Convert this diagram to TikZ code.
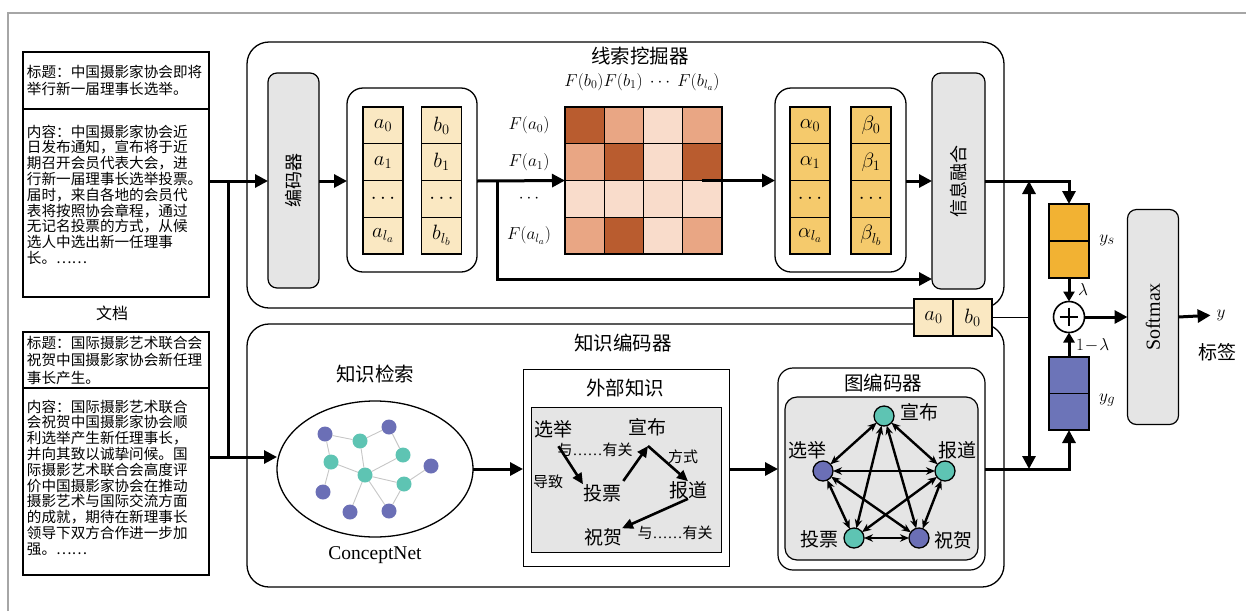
\documentclass[tikz,border=0pt]{standalone}
\usepackage{graphicx}
\usepackage{fontspec}
\setmainfont{Liberation Serif}
\newfontfamily\cjk{Noto Sans CJK SC}
\usetikzlibrary{arrows.meta,shapes.geometric,positioning,calc}

\definecolor{boxgray}{HTML}{E5E5E5}
\definecolor{beige}{HTML}{FAE8C2}
\definecolor{attn}{HTML}{F5CA6C}
\definecolor{yscol}{HTML}{F2B233}
\definecolor{ygcol}{HTML}{6C74B8}
\definecolor{heatdk}{HTML}{B95C2F}
\definecolor{heatmd}{HTML}{E9A684}
\definecolor{heatlt}{HTML}{F9DCCB}
\definecolor{teal}{HTML}{5EC4B3}
\definecolor{violet}{HTML}{6B6FB6}
\newcommand\fsz[1]{\fontsize{#1}{#1}\selectfont}
\newcommand\reldots{{\rmfamily\fsz{15}……}}

\begin{document}
\begin{tikzpicture}[x=1pt, y=-1pt,
    every node/.style={inner sep=0pt, outer sep=0pt},
    doctitle/.style={font=\cjk\fontsize{14.6}{17.5}\selectfont, align=left, anchor=north west},
    docbody/.style={font=\cjk\fontsize{14.6}{15.8}\selectfont, align=left, anchor=north west},
    docbox/.style={draw, line width=1.2pt, anchor=north west},
    panel/.style={draw, line width=1.3pt, rounded corners=22pt},
    title/.style={font=\cjk\fsz{19.5}},
    graybox/.style={draw, line width=1.2pt, fill=boxgray, rounded corners=9pt, font=\cjk\fsz{18}},
    cell/.style={draw, line width=1.2pt, minimum width=40pt, minimum height=36.75pt, font=\fsz{21}},
    mcell/.style={draw, line width=1.2pt, minimum width=39.25pt, minimum height=36.75pt},
    flow/.style={line width=3pt, -{Triangle[length=13pt,width=13pt]}},
    small flow/.style={line width=3pt, -{Triangle[length=10pt,width=11pt]}},
    bus/.style={line width=3pt},
    netdot/.style={circle, minimum size=15pt},
    netedge/.style={gray!45, line width=0.9pt},
    kword/.style={font=\cjk\fsz{19}},
    krel/.style={font=\cjk\fsz{15}},
    karrow/.style={line width=2.6pt, -{Triangle[length=11pt,width=10pt]}},
    gdot/.style={circle, draw, line width=1.3pt, minimum size=20pt},
    gedge/.style={line width=2.4pt, {Stealth[length=9pt,width=7.5pt]}-{Stealth[length=9pt,width=7.5pt]}},
    glab/.style={font=\cjk\fsz{19}}]
  \useasboundingbox (0,0) rectangle (1246,611);
  \draw[gray!70, line width=1.5pt] (8,611) -- (8,13) -- (1246,13);

  \coordinate (ymain) at (0,181);
  \coordinate (ylow) at (0,279);
  \coordinate (ygr) at (0,469);

  \node[docbox, minimum width=186pt, minimum height=57pt] (d1t) at (23,52) {};
  \node[docbox, minimum width=186pt, minimum height=188pt] (d1b) at (23,109) {};
  \node[doctitle] (d1tt) at (27,64.7) {标题：中国摄影家协会即将\\举行新一届理事长选举。};
  \node[docbody] (d1bt) at (27,124.7) {内容：中国摄影家协会近\\日发布通知，宣布将于近\\期召开会员代表大会，进\\行新一届理事长选举投票。\\届时，来自各地的会员代\\表将按照协会章程，通过\\无记名投票的方式，从候\\选人中选出新一任理事\\长。……};
  \node[font=\cjk\fsz{16}] (doclab) at (112,313) {文档};
  \node[docbox, minimum width=186pt, minimum height=56pt] (d2t) at (23,332) {};
  \node[docbox, minimum width=186pt, minimum height=187pt] (d2b) at (23,388) {};
  \node[doctitle] (d2tt) at (27,335.7) {标题：国际摄影艺术联合会\\祝贺中国摄影家协会新任理\\事长产生。};
  \node[docbody] (d2bt) at (27,399.7) {内容：国际摄影艺术联合\\会祝贺中国摄影家协会顺\\利选举产生新任理事长，\\并向其致以诚挚问候。国\\际摄影艺术联合会高度评\\价中国摄影家协会在推动\\摄影艺术与国际交流方面\\的成就，期待在新理事长\\领导下双方合作进一步加\\强。……};

  \node[panel, minimum width=757pt, minimum height=266pt] (mine) at (625.5,175) {};
  \node[panel, minimum width=757pt, minimum height=263pt] (know) at (625.5,455.5) {};
  \node[title] (minet) at (640,56) {线索挖掘器};
  \node[title] (knowt) at (623,343) {知识编码器};

  \node[graybox, minimum width=51pt, minimum height=215pt] (enc) at (293.5,180.5) {\rotatebox{90}{编码器}};
  \node[draw, line width=1.3pt, rounded corners=16pt, minimum width=130pt, minimum height=184pt] (abbox) at (412,180) {};
  \foreach \lab [count=\i from 0] in {a_0,a_1,\cdots,a_{l_a}}
    \node[cell, fill=beige] (a\i) at (383,125.4+36.75*\i) {$\lab$};
  \foreach \lab [count=\i from 0] in {b_0,b_1,\cdots,b_{l_b}}
    \node[cell, fill=beige] (b\i) at (441.5,125.4+36.75*\i) {$\lab$};

  \foreach \r/\cl in {0/{dk,md,lt,md},1/{md,dk,lt,dk},2/{lt,lt,lt,lt},3/{md,dk,lt,md}}
    \foreach \f [count=\c from 0] in \cl
      \node[mcell, fill=heat\f] (m-\r-\c) at (584.6+39.25*\c,125.4+36.75*\r) {};
  \node[font=\fsz{17.5}] (fb) at (642,82) {$F(b_0)F(b_1)\ \cdots\ F(b_{l_a})$};
  \foreach \lab [count=\i from 0] in {F(a_0),F(a_1),\cdots,F(a_{l_a})}
    \node[font=\fsz{18.5}] (fa\i) at (529,125.4+36.75*\i) {$\lab$};

  \node[draw, line width=1.3pt, rounded corners=16pt, minimum width=131pt, minimum height=184pt] (albe) at (840.5,180) {};
  \foreach \lab [count=\i from 0] in {\alpha_0,\alpha_1,\cdots,\alpha_{l_a}}
    \node[cell, fill=attn] (al\i) at (810,125.4+36.75*\i) {$\lab$};
  \foreach \lab [count=\i from 0] in {\beta_0,\beta_1,\cdots,\beta_{l_b}}
    \node[cell, fill=attn] (be\i) at (871,125.4+36.75*\i) {$\lab$};
  \node[graybox, minimum width=53pt, minimum height=216pt] (fuse) at (958.5,181) {\rotatebox{90}{信息融合}};

  \node[cell, fill=beige, minimum width=39pt, minimum height=37pt] (ca) at (933.5,317.5) {$a_0$};
  \node[cell, fill=beige, minimum width=39pt, minimum height=37pt, right=0pt of ca] (cb) {$b_0$};

  \coordinate (j1) at (228,181);
  \coordinate (j2) at (228,457);
  \coordinate (j3) at (497,181);
  \coordinate (jb) at (1029,317.5);
  \draw[flow] (d1b.east |- ymain) -- (enc.west |- ymain);
  \draw[bus] (j1) -- (j2);
  \draw[flow] (enc.east |- ymain) -- (abbox.west |- ymain);
  \draw[flow] (abbox.east |- ymain) -- (m-1-0.south west);
  \draw[flow] (j3) |- (fuse.west |- ylow);
  \draw[flow] (m-1-3.south) -- (albe.west |- m-1-3.south);
  \draw[flow] (albe.east |- ymain) -- (fuse.west |- ymain);

  \node[title] (kr) at (375,374) {知识检索};
  \node[draw, ellipse, line width=1.3pt, minimum width=196pt, minimum height=136pt] (ell) at (375,469) {};
  \node[font=\fsz{19.5}] (cnet) at (375,555) {ConceptNet};
  \foreach \n/\px/\py in {b1/325/434, b2/389/427, b3/431/466, b4/323/492, b5/350/512, b6/389/511}
    \node[netdot, fill=violet] (\n) at (\px,\py) {};
  \foreach \n/\px/\py in {t1/360/441, t2/403/455, t3/331/462, t4/365/475, t5/404/484}
    \node[netdot, fill=teal] (\n) at (\px,\py) {};
  \foreach \u/\v in {b1/t1, b1/t3, t1/b2, b2/t2, t1/t4, t3/t4, t4/t2, t4/t5, t5/b3, t3/b4, t4/b5, t4/b6, t5/b6}
    \draw[netedge] (\u) -- (\v);
  \draw[flow] (d2b.east |- j2) -- (ell.west |- j2);

  \node[draw, line width=1pt, minimum width=206pt, minimum height=197pt] (ext) at (626,467.5) {};
  \node[title] (extt) at (625,388) {外部知识};
  \node[draw, line width=1pt, fill=boxgray, minimum width=190pt, minimum height=145pt] (extin) at (626,479.5) {};
  \node[kword] (kxj) at (553,429) {选举};
  \node[kword] (kxb) at (647,427) {宣布};
  \node[kword] (ktp) at (602,493) {投票};
  \node[kword] (kbd) at (688,490) {报道};
  \node[kword] (kzh) at (603,537) {祝贺};
  \node[krel] (kr1) at (595,450) {与\reldots 有关};
  \node[krel] (kr2) at (683,457) {方式};
  \node[krel] (kr3) at (548,482) {导致};
  \node[krel] (kr4) at (675,533) {与\reldots 有关};
  \coordinate (kv) at (648,446);
  \draw[karrow, shorten <=10pt] (kxj.south) -- (ktp.north west);
  \draw[karrow, shorten <=4pt] (ktp.north east) -- (kv);
  \draw[karrow] (kv) -- (kbd.north);
  \draw[karrow] (kbd.south) -- (kzh.north east);
  \draw[flow] (ell.east) -- (ext.west |- ell.east);

  \node[draw, line width=1.2pt, fill=white, rounded corners=15pt, minimum width=207pt, minimum height=202pt] (genc) at (881.5,469) {};
  \node[title] (gt) at (883,383) {图编码器};
  \node[draw, line width=1.2pt, fill=boxgray, rounded corners=12pt, minimum width=193pt, minimum height=163pt] (gin) at (881.5,478.5) {};
  \node[gdot, fill=teal] (gxb) at (884,416) {};
  \node[gdot, fill=violet] (gxj) at (823,471) {};
  \node[gdot, fill=teal] (gbd) at (945,471) {};
  \node[gdot, fill=teal] (gtp) at (854,538) {};
  \node[gdot, fill=violet] (gzh) at (919,538) {};
  \node[glab] (lxb) at (919,412) {宣布};
  \node[glab] (lxj) at (807,450) {选举};
  \node[glab] (lbd) at (957,450) {报道};
  \node[glab] (ltp) at (819,539) {投票};
  \node[glab] (lzh) at (953,540) {祝贺};
  \foreach \u/\v in {gxb/gxj, gxb/gbd, gxb/gtp, gxb/gzh, gxj/gbd, gxj/gtp, gxj/gzh, gbd/gtp, gbd/gzh, gtp/gzh}
    \draw[gedge] (\u) -- (\v);
  \draw[flow] (ext.east |- ygr) -- (genc.west |- ygr);

  \node[draw, line width=1.2pt, fill=yscol, minimum width=40pt, minimum height=37pt] (ys1) at (1069,222.5) {};
  \node[draw, line width=1.2pt, fill=yscol, minimum width=40pt, minimum height=37pt, below=0pt of ys1] (ys2) {};
  \node[font=\fsz{19}] (yslab) at (1107,240) {$y_s$};
  \node[draw, line width=1.2pt, fill=ygcol, minimum width=40pt, minimum height=36.5pt] (yg1) at (1069,375.25) {};
  \node[draw, line width=1.2pt, fill=ygcol, minimum width=40pt, minimum height=36.5pt, below=0pt of yg1] (yg2) {};
  \node[font=\fsz{19}] (yglab) at (1107,400) {$y_g$};
  \node[circle, draw, line width=1.6pt, minimum size=31pt] (plus) at (1069,317) {};
  \draw[line width=2.6pt] ($(plus.north)!0.2!(plus.south)$) -- ($(plus.north)!0.8!(plus.south)$);
  \draw[line width=2.6pt] ($(plus.west)!0.2!(plus.east)$) -- ($(plus.west)!0.8!(plus.east)$);
  \node[graybox, minimum width=51pt, minimum height=215pt, font=\fsz{20}] (soft) at (1153,317) {\rotatebox{90}{Softmax}};
  \node[font=\fsz{19}] (ylab) at (1221,315) {$y$};
  \node[font=\cjk\fsz{19}] (tag) at (1217,352) {标签};

  \draw[line width=1.2pt] (cb.east) -- (jb);
  \draw[flow] (jb) -- (jb |- ymain);
  \draw[flow] (jb) -- (jb |- ygr);
  \draw[flow] (fuse.east |- ymain) -| (ys1.north);
  \draw[flow] (genc.east |- ygr) -| (yg2.south);
  \draw[small flow] (ys2.south) -- (plus.north) node[midway, right=9pt, font=\fsz{17}] (lam) {$\lambda$};
  \draw[small flow] (yg1.north) -- (plus.south) node[midway, right=7pt, font=\fsz{17}] (mlam) {$1\!-\!\lambda$};
  \draw[flow] (plus.east) -- (soft.west |- plus.east);
  \draw[flow, shorten >=6pt] (soft.east |- plus) -- (ylab.west);
\end{tikzpicture}
\end{document}
